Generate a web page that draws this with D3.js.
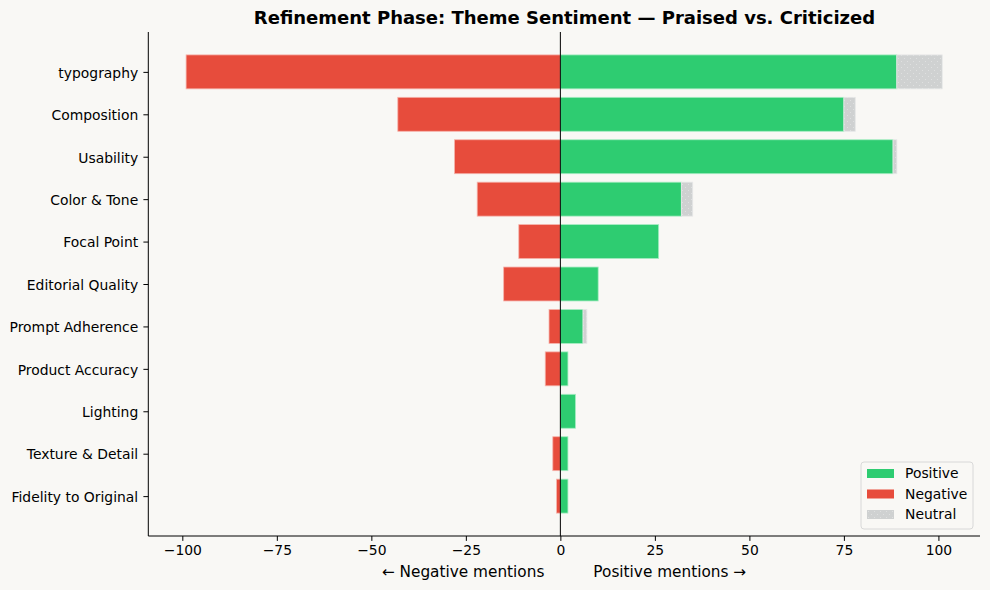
<!DOCTYPE html>
<html><head><meta charset="utf-8">
<script src="https://cdn.jsdelivr.net/npm/d3@7"></script>
<style>
body{margin:0;background:#f9f8f5;}
svg{display:block;font-family:"DejaVu Sans",sans-serif;}
</style></head>
<body><svg id="c" width="990" height="590"></svg>
<script>
const categories = ["typography","Composition","Usability","Color & Tone","Focal Point","Editorial Quality","Prompt Adherence","Product Accuracy","Lighting","Texture & Detail","Fidelity to Original"];
const positive = [89,75,88,32,26,10,6,2,4,2,2];
const negative = [99,43,28,22,11,15,3,4,0,2,1];
const neutral  = [12,3,1,3,0,0,1,0,0,0,0];
const xTicks = [-100,-75,-50,-25,0,25,50,75,100];
const legendLabels = ["Positive","Negative","Neutral"];

const colors = {pos:"#2ecc71", neg:"#e74c3c", neu:"#cfd1d1"};
const svg = d3.select("#c");
const W=990,H=590;
svg.append("rect").attr("width",W).attr("height",H).attr("fill","#f9f8f5");

const defs = svg.append("defs");
const pat = defs.append("pattern").attr("id","dots").attr("patternUnits","userSpaceOnUse").attr("width",6).attr("height",6);
pat.append("rect").attr("width",6).attr("height",6).attr("fill",colors.neu);
pat.append("circle").attr("cx",1.5).attr("cy",1.5).attr("r",0.6).attr("fill","#e2e3e3");
pat.append("circle").attr("cx",4.5).attr("cy",4.5).attr("r",0.6).attr("fill","#e2e3e3");

const m = {l:148.3, r:980, t:32, b:536};
const xmin = -d3.max(negative)-10, xmax = d3.max(positive.map((p,i)=>p+neutral[i]))+10;
const x = d3.scaleLinear().domain([xmin,xmax]).range([m.l,m.r]);
const yIdx = d3.scaleLinear().domain([-0.94,10.94]).range([m.t,m.b]);
const bh = 0.8;

const g = svg.append("g");
categories.forEach((c,i)=>{
  const y0 = yIdx(i-bh/2), y1 = yIdx(i+bh/2);
  if(negative[i]>0) g.append("rect").attr("x",x(-negative[i])).attr("y",y0).attr("width",x(0)-x(-negative[i])).attr("height",y1-y0)
    .attr("fill",colors.neg).attr("stroke","#f6b3ab").attr("stroke-width",0.8);
  if(positive[i]>0) g.append("rect").attr("x",x(0)).attr("y",y0).attr("width",x(positive[i])-x(0)).attr("height",y1-y0)
    .attr("fill",colors.pos).attr("stroke","#a7ecc2").attr("stroke-width",0.8);
  if(neutral[i]>0) g.append("rect").attr("x",x(positive[i])).attr("y",y0).attr("width",x(positive[i]+neutral[i])-x(positive[i])).attr("height",y1-y0)
    .attr("fill","url(#dots)").attr("stroke","#e6e7e7").attr("stroke-width",0.8);
});

// zero line
svg.append("line").attr("x1",x(0)).attr("x2",x(0)).attr("y1",m.t).attr("y2",m.b).attr("stroke","#000").attr("stroke-width",1);

// axes
const xa = svg.append("g").attr("transform",`translate(0,${m.b})`)
  .call(d3.axisBottom(x).tickValues(xTicks).tickSize(4.9).tickPadding(4.2).tickFormat(d=>d<0?"\u2212"+Math.abs(d):d));
xa.select(".domain").attr("d",`M${m.l},0H${m.r}`);
const ya = svg.append("g").attr("transform",`translate(${m.l},0)`)
  .call(d3.axisLeft(yIdx).tickValues(d3.range(categories.length)).tickSize(4.9).tickPadding(5.2).tickFormat(i=>categories[i]));
ya.select(".domain").attr("d",`M0,${m.t}V${m.b}`);
ya.selectAll(".tick text").attr("dy","0.38em");
svg.selectAll(".tick text").attr("font-size",13.9).attr("font-family","DejaVu Sans").attr("fill","#000");
svg.selectAll(".tick line").attr("stroke","#000");
svg.selectAll(".domain").attr("stroke","#000").attr("stroke-width",1);

// title
svg.append("text").attr("x",564.5).attr("y",24).attr("text-anchor","middle").attr("font-size",18).attr("font-weight","bold").text("Refinement Phase: Theme Sentiment \u2014 Praised vs. Criticized");

// axis labels
svg.append("text").attr("x",x(0)-16).attr("y",577).attr("text-anchor","end").attr("font-size",15.3).text("\u2190 Negative mentions");
svg.append("text").attr("x",x(0)+33).attr("y",577).attr("text-anchor","start").attr("font-size",15.3).text("Positive mentions \u2192");

// legend
const lg = svg.append("g").attr("transform","translate(861,462)");
lg.append("rect").attr("width",112).attr("height",67).attr("rx",3).attr("fill","#f9f8f5").attr("stroke","#d6d6d6").attr("stroke-width",1).attr("opacity",0.9);
const lc = [colors.pos,colors.neg,"url(#dots)"];
legendLabels.forEach((l,i)=>{
  lg.append("rect").attr("x",6).attr("y",7+i*20.5).attr("width",27).attr("height",9).attr("fill",lc[i]);
  lg.append("text").attr("x",44).attr("y",16+i*20.5).attr("font-size",13.9).text(l);
});
</script></body></html>
